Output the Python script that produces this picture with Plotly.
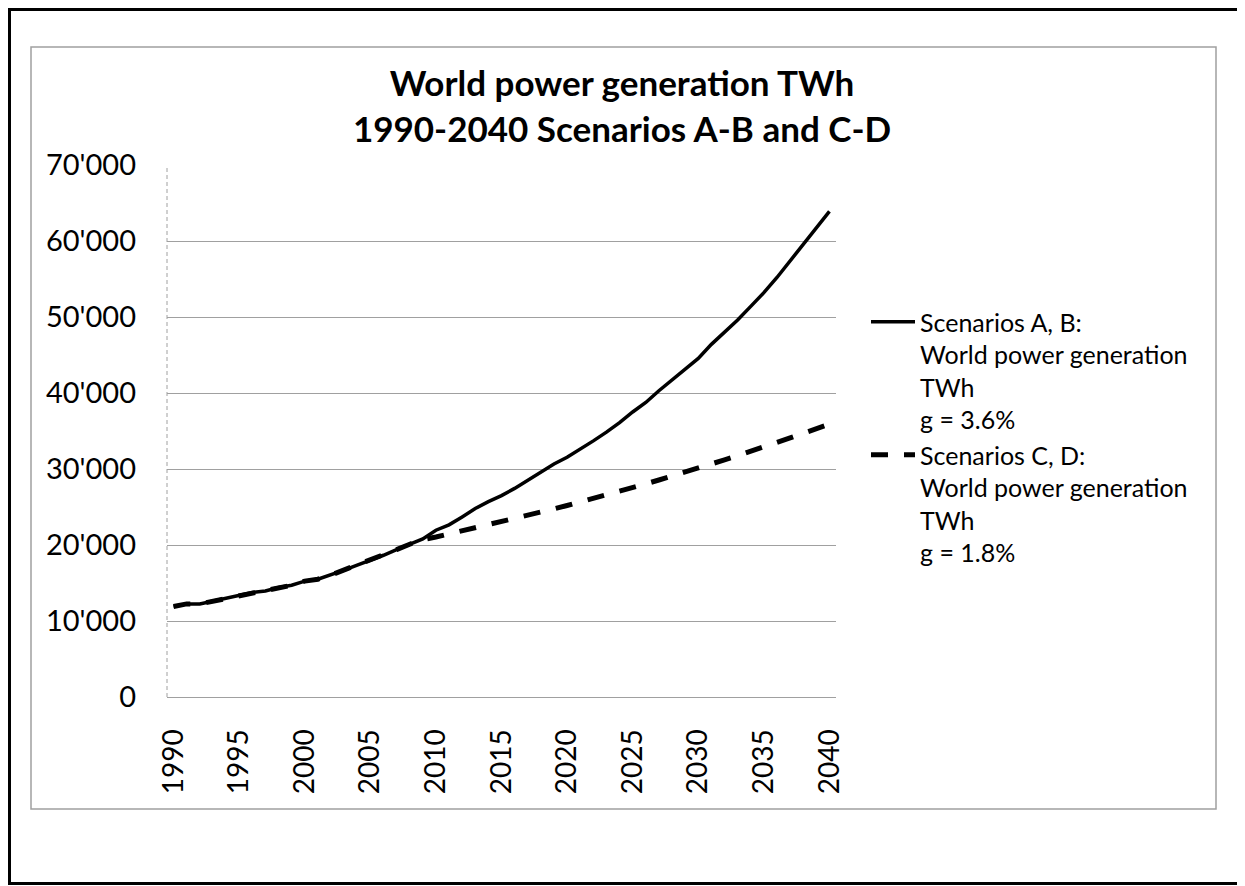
import plotly.graph_objects as go

years = list(range(1990, 2041))

scen_ab = [11900, 12250, 12250, 12600, 12950, 13400, 13750, 13950, 14400, 14700,
           15250, 15500, 16050, 16700, 17350, 17950, 18650, 19400, 20100, 20800,
           21950, 22650, 23700, 24800, 25700, 26500, 27450, 28550, 29550, 30650,
           31550, 32600, 33700, 34850, 36100, 37500, 38750, 40300, 41700, 43100,
           44550, 46400, 47950, 49600, 51400, 53200, 55200, 57400, 59650, 61750,
           63900]

scen_cd = [11900, 12250, 12250, 12600, 12950, 13400, 13750, 13950, 14400, 14700,
           15250, 15500, 16050, 16700, 17350, 17950, 18650, 19400, 20100, 20700,
           21050, 21450, 21850, 22250, 22650, 23000, 23400, 23850, 24300, 24750,
           25200, 25650, 26100, 26550, 27050, 27550, 28050, 28550, 29050, 29600,
           30100, 30650, 31200, 31750, 32300, 32900, 33500, 34100, 34700, 35300,
           35900]

ytick_vals = [0, 10000, 20000, 30000, 40000, 50000, 60000, 70000]
ytick_text = ["0", "10'000", "20'000", "30'000", "40'000", "50'000", "60'000", "70'000"]
xtick_vals = [1990, 1995, 2000, 2005, 2010, 2015, 2020, 2025, 2030, 2035, 2040]

name_ab = "Scenarios A, B:<br>World power generation<br>TWh<br>g = 3.6%"
name_cd = "Scenarios C, D:<br>World power generation<br>TWh<br>g = 1.8%"

FONT = "Lato, Calibri, Arial, sans-serif"
GRID = "#A0A0A0"

# page body has an 8px margin; work in target-page coordinates and shift
OFF = 8
W, H = 1245 - OFF, 886 - OFF
L, R, T, B = 167, 836, 165, 697  # plot area in page coordinates


def px(x):
    return (x - L) / (R - L)


def py(y):
    return (B - y) / (B - T)


fig = go.Figure()
fig.add_trace(go.Scatter(x=years, y=scen_ab, mode="lines", name=name_ab,
                         line=dict(color="black", width=3.5)))
fig.add_trace(go.Scatter(x=years, y=scen_cd, mode="lines", name=name_cd,
                         line=dict(color="black", width=5, dash="17px,16px")))

shapes = [
    dict(type="rect", xref="paper", yref="paper", x0=px(9.5), x1=px(1241.5), y0=py(883.5), y1=py(9.5),
         line=dict(color="black", width=3), fillcolor="rgba(0,0,0,0)", layer="below"),
    dict(type="rect", xref="paper", yref="paper", x0=px(31), x1=px(1216), y0=py(809), y1=py(47),
         line=dict(color=GRID, width=1.5), fillcolor="rgba(0,0,0,0)", layer="below"),
    dict(type="line", xref="paper", yref="paper", x0=0, x1=0, y0=0, y1=1,
         line=dict(color=GRID, width=1, dash="4px,3px")),
]

fig.update_layout(
    width=W, height=H,
    margin=dict(l=L - OFF, r=(1245 - R), t=T - OFF, b=(886 - B), pad=0),
    paper_bgcolor="white", plot_bgcolor="white",
    font=dict(family=FONT, color="black"),
    title=dict(text="<b>World power generation TWh<br>1990-2040 Scenarios A-B and C-D</b>",
               x=(622 - OFF) / W, xanchor="center", xref="container",
               y=1 - (96 - OFF) / H, yanchor="middle", yref="container",
               font=dict(size=35, family=FONT, color="black")),
    xaxis=dict(range=[1989.5, 2040.5], tickvals=xtick_vals, tickangle=-90,
               showgrid=False, zeroline=False, showline=True, linecolor=GRID, linewidth=1,
               ticks="", ticklabelstandoff=20, tickfont=dict(size=28, family=FONT)),
    yaxis=dict(range=[0, 70000], tickvals=ytick_vals, ticktext=ytick_text,
               showgrid=True, gridcolor=GRID, gridwidth=1, zeroline=False, showline=False,
               ticks="", ticklabelstandoff=30, tickfont=dict(size=29, family=FONT)),
    legend=dict(x=px(866), y=py(299), xanchor="left", yanchor="top",
                font=dict(size=25, family=FONT), valign="top",
                bgcolor="rgba(0,0,0,0)", tracegroupgap=0, itemwidth=44),
    shapes=shapes,
    showlegend=True,
)

fig.write_html("out.html")
